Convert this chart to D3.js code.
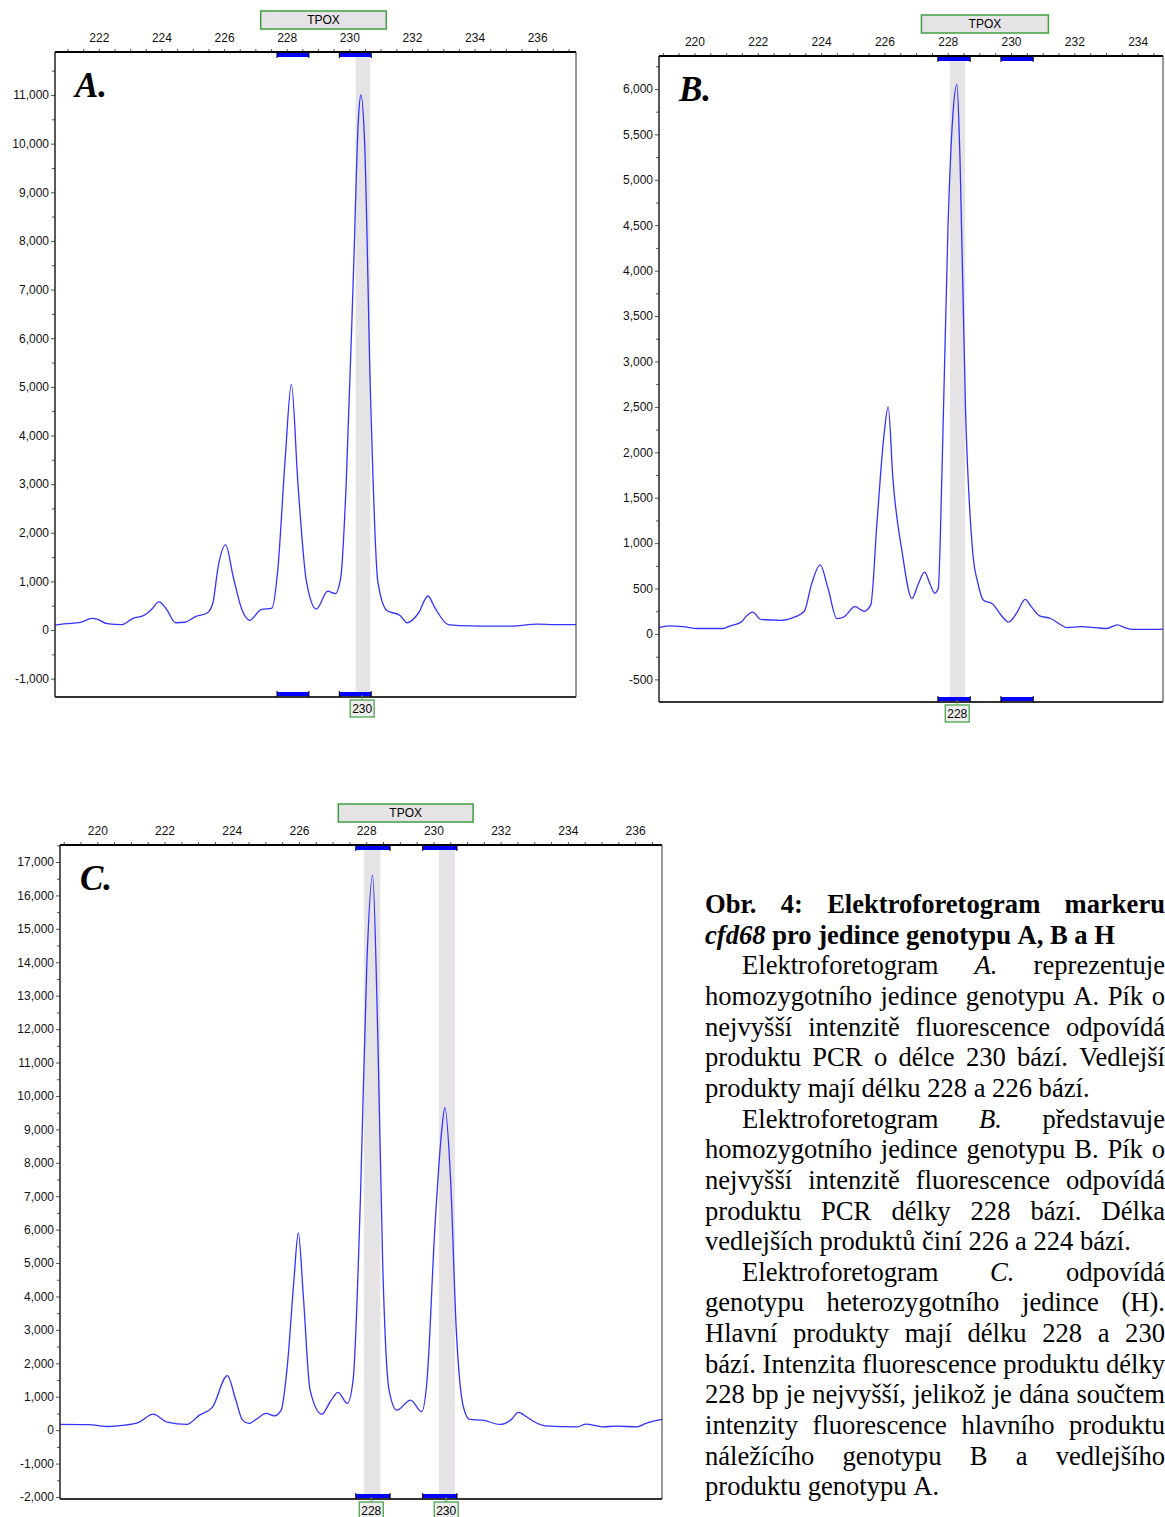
<!DOCTYPE html>
<html>
<head>
<meta charset="utf-8">
<script src="https://cdn.jsdelivr.net/npm/d3@7"></script>
<style>
body { margin: 0; background: #fff; }
#chart { width: 1165px; height: 1517px; }
</style>
</head>
<body>
<div id="chart"></div>
<script>
// TPOX marker range and bins (bp), same for all three runs
const markerName = "TPOX";
const markerRange = [227.17, 231.18];
const bins = [[227.69, 228.71], [229.68, 230.70]];

// panel A - homozygote genotype A
const bpA = [220.60, 220.96, 221.37, 221.79, 221.96, 222.26, 222.73, 223.09, 223.44, 223.68, 223.92, 224.16, 224.45, 224.75, 225.10, 225.46, 225.64, 225.81, 226.05, 226.29, 226.58, 226.82, 227.18, 227.53, 227.71, 227.95, 228.15, 228.36, 228.63, 228.95, 229.31, 229.55, 229.73, 229.90, 230.14, 230.29, 230.37, 230.49, 230.67, 230.91, 231.20, 231.62, 231.85, 232.21, 232.51, 232.74, 233.16, 233.51, 234.22, 235.17, 236.00, 236.59, 237.24];
const rfuA = [100, 130, 150, 240, 220, 130, 110, 240, 300, 420, 580, 430, 150, 160, 280, 350, 550, 1300, 1750, 1100, 400, 200, 420, 450, 1200, 3500, 5050, 3000, 1000, 430, 800, 750, 1100, 3000, 7500, 10500, 11000, 10000, 5000, 1000, 400, 300, 150, 350, 700, 450, 110, 90, 80, 80, 120, 110, 110];
const bandsA = [[230.20, 230.67]];
const callsA = [230.41];
const callLabelsA = ["230"];

// panel B - homozygote genotype B
const bpB = [218.80, 219.19, 219.65, 220.10, 220.56, 220.90, 221.13, 221.47, 221.65, 221.84, 222.10, 222.73, 223.19, 223.47, 223.70, 223.97, 224.22, 224.50, 224.73, 225.07, 225.36, 225.57, 225.76, 225.99, 226.12, 226.27, 226.56, 226.87, 227.07, 227.27, 227.44, 227.59, 227.70, 227.82, 228.01, 228.16, 228.29, 228.39, 228.56, 228.79, 228.96, 229.13, 229.42, 229.70, 229.93, 230.16, 230.45, 230.62, 230.90, 231.25, 231.53, 231.76, 232.22, 232.67, 233.02, 233.36, 233.59, 233.87, 234.62, 234.93];
const rfuB = [60, 90, 80, 60, 60, 60, 90, 130, 200, 240, 160, 150, 190, 250, 550, 760, 500, 170, 190, 300, 250, 320, 1200, 2200, 2500, 1700, 900, 390, 550, 680, 550, 450, 500, 1800, 4500, 5700, 6050, 5200, 2500, 900, 550, 370, 330, 200, 130, 220, 380, 310, 200, 170, 110, 70, 80, 70, 60, 100, 70, 50, 50, 60];
const bandsB = [[228.07, 228.55]];
const callsB = [228.30];
const callLabelsB = ["228"];

// panel C - heterozygote
const bpC = [218.89, 219.72, 220.36, 220.74, 221.25, 221.66, 222.08, 222.66, 223.04, 223.42, 223.87, 224.12, 224.32, 224.51, 224.76, 225.02, 225.27, 225.47, 225.66, 225.85, 225.98, 226.13, 226.33, 226.68, 226.93, 227.16, 227.44, 227.61, 227.83, 228.02, 228.19, 228.34, 228.49, 228.68, 228.91, 229.32, 229.65, 229.81, 230.04, 230.25, 230.34, 230.51, 230.68, 230.89, 231.08, 231.47, 231.98, 232.30, 232.53, 232.77, 233.00, 233.32, 234.28, 234.53, 235.04, 235.43, 236.06, 236.32, 236.80];
const rfuC = [170, 165, 110, 140, 240, 480, 240, 170, 450, 680, 1630, 900, 300, 200, 350, 500, 430, 600, 2000, 4500, 5900, 4000, 1200, 480, 850, 1130, 800, 1500, 7000, 14000, 16600, 12000, 5000, 1200, 600, 900, 550, 1500, 6000, 9000, 9650, 7500, 3000, 700, 320, 300, 170, 300, 530, 400, 250, 130, 100, 180, 100, 120, 100, 200, 320];
const bandsC = [[227.93, 228.42], [230.16, 230.64]];
const callsC = [228.15, 230.38];
const callLabelsC = ["228", "230"];

// caption lines (_word_ = italic)
const captionLines = [
  { text: "Obr. 4: Elektroforetogram markeru", bold: true, justify: true },
  { text: "_cfd68_ pro jedince genotypu A, B a H", bold: true },
  { text: "Elektroforetogram _A._ reprezentuje", indent: true, justify: true },
  { text: "homozygotního jedince genotypu A. Pík o", justify: true },
  { text: "nejvyšší intenzitě fluorescence odpovídá", justify: true },
  { text: "produktu PCR o délce 230 bází. Vedlejší", justify: true },
  { text: "produkty  mají délku 228 a 226 bází." },
  { text: "Elektroforetogram _B._ představuje", indent: true, justify: true },
  { text: "homozygotního jedince genotypu B. Pík o", justify: true },
  { text: "nejvyšší intenzitě fluorescence odpovídá", justify: true },
  { text: "produktu PCR délky 228 bází. Délka", justify: true },
  { text: "vedlejších produktů činí 226 a 224 bází." },
  { text: "Elektroforetogram _C._ odpovídá", indent: true, justify: true },
  { text: "genotypu heterozygotního jedince (H).", justify: true },
  { text: "Hlavní produkty mají délku 228 a 230", justify: true },
  { text: "bází. Intenzita fluorescence produktu délky", justify: true },
  { text: "228 bp je nejvyšší, jelikož je dána součtem", justify: true },
  { text: "intenzity fluorescence hlavního produktu", justify: true },
  { text: "náležícího genotypu B a vedlejšího", justify: true },
  { text: "produktu genotypu A." }
];

const panels = [
  { name: "A", letter: "A.", bp: bpA, rfu: rfuA, bands: bandsA, calls: callsA, callLabels: callLabelsA,
    left: 55, right: 576, top: 52, bottom: 697, xDomain: [220.60, 237.24], yDomain: [-1377, 11884], yStep: 1000, xTicks: d3.range(222, 237, 2) },
  { name: "B", letter: "B.", bp: bpB, rfu: rfuB, bands: bandsB, calls: callsB, callLabels: callLabelsB,
    left: 659, right: 1163, top: 56, bottom: 702, xDomain: [218.88, 234.80], yDomain: [-749, 6363], yStep: 500, xTicks: d3.range(220, 235, 2) },
  { name: "C", letter: "C.", bp: bpC, rfu: rfuC, bands: bandsC, calls: callsC, callLabels: callLabelsC,
    left: 60, right: 662, top: 845, bottom: 1499, xDomain: [218.89, 236.80], yDomain: [-2060, 17509], yStep: 1000, xTicks: d3.range(220, 237, 2) }
];

const svg = d3.select("#chart").append("svg")
  .attr("width", 1165)
  .attr("height", 1517);

const defs = svg.append("defs");
const axisFont = "'Liberation Sans', Arial, sans-serif";
const bandColor = "#e6e3e6";
const boxGreen = "#3f9f3f";
const fmtRfu = v => d3.format(",")(v).replace("\u2212", "-");

panels.forEach(drawPanel);
drawCaption();

function drawPanel(p) {
  const x = d3.scaleLinear().domain(p.xDomain).range([p.left, p.right]);
  const y = d3.scaleLinear().domain(p.yDomain).range([p.bottom, p.top]);
  const g = svg.append("g").attr("class", "panel-" + p.name);

  //grey call bands
  g.selectAll("rect.band").data(p.bands).join("rect")
    .attr("class", "band")
    .attr("x", d => x(d[0]))
    .attr("width", d => x(d[1]) - x(d[0]))
    .attr("y", p.top)
    .attr("height", p.bottom - p.top)
    .attr("fill", bandColor);

  //trace, clipped to the plot box
  defs.append("clipPath").attr("id", "clip" + p.name)
    .append("rect")
    .attr("x", p.left).attr("y", p.top)
    .attr("width", p.right - p.left).attr("height", p.bottom - p.top);

  const line = d3.line()
    .x(d => x(d[0]))
    .y(d => y(d[1]))
    .curve(d3.curveMonotoneX);

  g.append("path")
    .datum(d3.zip(p.bp, p.rfu))
    .attr("clip-path", "url(#clip" + p.name + ")")
    .attr("d", line)
    .attr("fill", "none")
    .attr("stroke", "#3333ff")
    .attr("stroke-width", 1.3);

  //top axis (bp)
  const minor = d3.range(Math.ceil(p.xDomain[0] * 2) / 2, p.xDomain[1], 0.5);
  const xAxis = d3.axisTop(x)
    .tickValues(minor)
    .tickSize(3)
    .tickPadding(7)
    .tickFormat(d => p.xTicks.includes(d) ? d : "");
  const gx = g.append("g").attr("transform", `translate(0,${p.top})`).call(xAxis);
  gx.select(".domain").remove();
  gx.selectAll("text").attr("font-family", axisFont).attr("font-size", 12).attr("fill", "#111");
  gx.selectAll("line").attr("stroke", "#555");

  //left axis (RFU)
  const h = p.yStep / 2;
  const yVals = d3.range(Math.ceil(p.yDomain[0] / h) * h, p.yDomain[1], h);
  const yAxis = d3.axisLeft(y)
    .tickValues(yVals)
    .tickSize(4)
    .tickPadding(2)
    .tickFormat(d => d % p.yStep === 0 ? fmtRfu(d) : "");
  const gy = g.append("g").attr("transform", `translate(${p.left},0)`).call(yAxis);
  gy.select(".domain").remove();
  gy.selectAll("text").attr("font-family", axisFont).attr("font-size", 12).attr("fill", "#111");
  gy.selectAll("line").attr("stroke", "#555");
  gy.selectAll(".tick").filter(d => d % p.yStep !== 0).select("line").attr("x2", -3);

  //frame
  g.append("line").attr("x1", p.left).attr("x2", p.right).attr("y1", p.top).attr("y2", p.top)
    .attr("stroke", "#000").attr("stroke-width", 2);
  g.append("line").attr("x1", p.left).attr("x2", p.left).attr("y1", p.top).attr("y2", p.bottom)
    .attr("stroke", "#222").attr("stroke-width", 1.5);
  g.append("line").attr("x1", p.left).attr("x2", p.right).attr("y1", p.bottom).attr("y2", p.bottom)
    .attr("stroke", "#333").attr("stroke-width", 2);
  g.append("line").attr("x1", p.right).attr("x2", p.right).attr("y1", p.top).attr("y2", p.bottom)
    .attr("stroke", "#333").attr("stroke-width", 1);

  //bins at top and bottom
  [[p.top + 1, 1], [p.bottom - 5, -1]].forEach(([by, dir]) => {
    g.selectAll(null).data(bins).join("rect")
      .attr("x", d => x(d[0]))
      .attr("width", d => x(d[1]) - x(d[0]))
      .attr("y", by)
      .attr("height", 4)
      .attr("fill", "#0000ff");
    g.selectAll(null).data(bins.flat()).join("line")
      .attr("x1", d => x(d)).attr("x2", d => x(d))
      .attr("y1", dir > 0 ? p.top : p.bottom - 6)
      .attr("y2", dir > 0 ? p.top + 6 : p.bottom)
      .attr("stroke", "#000").attr("stroke-width", 1);
  });

  //marker box
  g.append("rect")
    .attr("x", x(markerRange[0]))
    .attr("width", x(markerRange[1]) - x(markerRange[0]))
    .attr("y", p.top - 41)
    .attr("height", 18)
    .attr("fill", bandColor)
    .attr("stroke", boxGreen)
    .attr("stroke-width", 1.5);
  g.append("text")
    .attr("x", x(d3.mean(markerRange)))
    .attr("y", p.top - 28)
    .attr("text-anchor", "middle")
    .attr("font-family", axisFont).attr("font-size", 12)
    .text(markerName);

  //allele call labels under the plot
  const calls = g.selectAll("g.call").data(p.calls).join("g")
    .attr("class", "call")
    .attr("transform", d => `translate(${x(d)},${p.bottom})`);
  calls.append("line").attr("y1", -2).attr("y2", 3).attr("stroke", boxGreen);
  calls.append("rect")
    .attr("x", -12).attr("y", 3).attr("width", 24).attr("height", 17)
    .attr("fill", "#eeeeee").attr("stroke", boxGreen).attr("stroke-width", 1.2);
  calls.append("text")
    .attr("y", 16)
    .attr("text-anchor", "middle")
    .attr("font-family", axisFont).attr("font-size", 12)
    .text((d, i) => p.callLabels[i]);

  //panel letter
  g.append("text")
    .attr("x", p.left + 20)
    .attr("y", p.top + 45)
    .attr("font-family", "'Liberation Serif', 'Times New Roman', serif")
    .attr("font-weight", "bold")
    .attr("font-style", "italic")
    .attr("font-size", 35)
    .text(p.letter);
}

//justified caption on the right
function drawCaption() {
  const capX = 705, capW = 460, capY0 = 913, capLH = 30.65, indent = 37;
  const cap = svg.append("g")
    .attr("font-family", "'Liberation Serif', 'Times New Roman', serif")
    .attr("font-size", 26.6)
    .attr("fill", "#000");

  captionLines.forEach((ln, i) => {
    const words = ln.text.split(" ").filter(w => w.length);
    const yy = capY0 + i * capLH;
    const x0 = capX + (ln.indent ? indent : 0);
    const nodes = words.map(w => {
      const it = /^_.*_$/.test(w);
      return cap.append("text")
        .attr("y", yy)
        .attr("font-weight", ln.bold ? "bold" : "normal")
        .attr("font-style", it ? "italic" : "normal")
        .text(it ? w.slice(1, -1) : w);
    });
    const widths = nodes.map(n => n.node().getComputedTextLength());
    const gap = ln.justify && words.length > 1
      ? (capX + capW - x0 - d3.sum(widths)) / (words.length - 1)
      : 6.6;
    let xx = x0;
    nodes.forEach((n, k) => {
      n.attr("x", xx);
      xx += widths[k] + gap;
    });
  });
}
</script>
</body>
</html>
